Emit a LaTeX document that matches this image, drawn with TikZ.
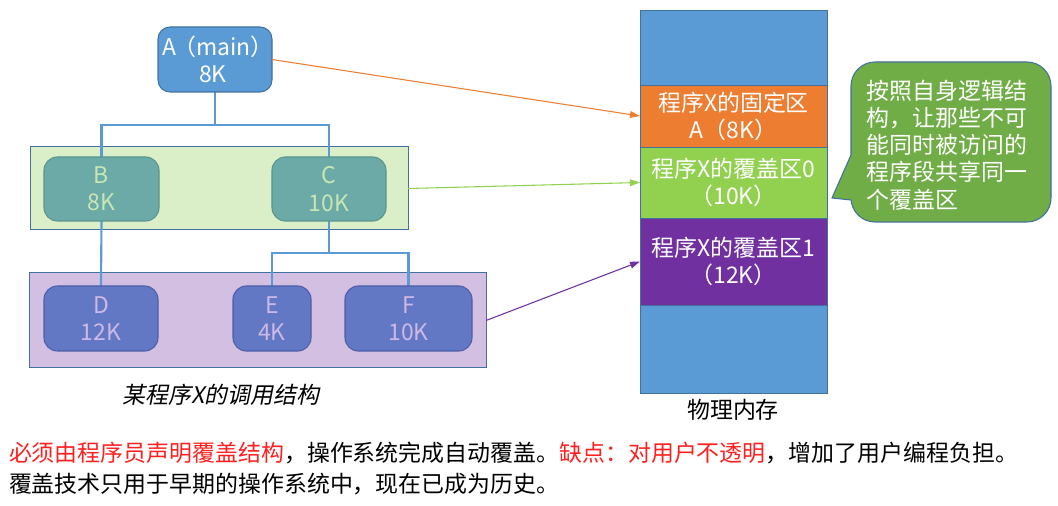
\documentclass[tikz,border=0pt]{standalone}
\usepackage{fontspec}
\setmainfont{Noto Sans CJK SC}
\newfontfamily\capfont[FakeSlant=0.2]{Noto Sans CJK SC}
\usetikzlibrary{fit,arrows.meta,calc}
\definecolor{ablue}{HTML}{5B9BD5}
\definecolor{bordblue}{HTML}{41719C}
\definecolor{tealbox}{HTML}{6BAAA7}
\definecolor{tealbord}{HTML}{5A9590}
\definecolor{tealtxt}{HTML}{C8E6B4}
\definecolor{gband}{HTML}{DAEFC8}
\definecolor{pband}{HTML}{D3BFE1}
\definecolor{pbox}{HTML}{6278C4}
\definecolor{pbord}{HTML}{4C5FA8}
\definecolor{ptxt}{HTML}{CDB9E6}
\definecolor{morange}{HTML}{ED7D31}
\definecolor{mgreen}{HTML}{92D050}
\definecolor{mpurple}{HTML}{7030A0}
\definecolor{callgreen}{HTML}{70AD47}
\definecolor{warnred}{HTML}{FF1F1F}
\begin{document}
\begin{tikzpicture}[x=0.75pt,y=-0.75pt,
  font=\fontsize{17.2}{20.4}\selectfont,
  every node/.style={inner sep=0pt, outer sep=0pt},
  abox/.style={fill=ablue, draw=bordblue, line width=0.8pt, rounded corners=9pt, text=white, align=center},
  tbox/.style={fill=tealbox, draw=tealbord, line width=0.8pt, rounded corners=10pt, text=tealtxt, align=center},
  pbx/.style={fill=pbox, draw=pbord, line width=0.8pt, rounded corners=10pt, text=ptxt, align=center},
  band/.style={draw=bordblue, line width=0.75pt},
  conn/.style={draw=ablue, line width=1.6pt},
  memblk/.style={draw=bordblue, line width=0.6pt, text=white, align=center},
  link/.style={line width=0.8pt, -{Triangle[length=7.5pt,width=5pt]}},
]
\useasboundingbox (0,0) rectangle (1058,506);

% bands
\node[band, fill=gband, fit={(30,147)(408,230)}] (gb) {};
\node[band, fill=pband, fit={(29,273)(486,368)}] (pb) {};

% box positions
\path node[fit={(158,27)(272,92)}] (Apos) {};
\path node[fit={(44,157)(159,221)}] (Bpos) {};
\path node[fit={(272,157)(386,221)}] (Cpos) {};
\path node[fit={(44,286)(158,351)}] (Dpos) {};
\path node[fit={(233,286)(311,351)}] (Epos) {};
\path node[fit={(345,286)(472,351)}] (Fpos) {};

% connectors
\draw[conn] (Apos.south) -- ++(0,33) coordinate (ab);
\draw[conn] (Bpos.north) |- (ab) -| (Cpos.north);
\draw[conn] (Bpos.south) -- (Dpos.north);
\draw[conn] (Cpos.south) -- ++(0,32) coordinate (cef);
\draw[conn] (Epos.north) |- (cef) -| (Fpos.north);

% boxes
\node[abox, fit={(158,27)(272,92)}] (A) {};
\node[text=white, align=center] at ($(A.center)+(-2,0)$) {A\kern-0.15em（main）\kern-0.45em\\8K};
\node[tbox, fit={(44,157)(159,221)}] (B) {};
\node[text=tealtxt, align=center] at (B.center) {B\\8K};
\node[tbox, fit={(272,157)(386,221)}] (C) {};
\node[text=tealtxt, align=center] at (C.center) {C\\10K};
\node[pbx, fit={(44,286)(158,351)}] (D) {};
\node[text=ptxt, align=center] at (D.center) {D\\12K};
\node[pbx, fit={(233,286)(311,351)}] (E) {};
\node[text=ptxt, align=center] at (E.center) {E\\4K};
\node[pbx, fit={(345,286)(472,351)}] (F) {};
\node[text=ptxt, align=center] at (F.center) {F\\10K};

\node (cap) at (221,395) {\capfont 某程序X的调用结构};

% memory
\node[memblk, fill=ablue, fit={(640,10)(827,393)}] (mem) {};
\node[memblk, fill=morange, fit={(640,85)(827,147)}] (mo) {};
\node[text=white, align=center] at (mo.center) {程序X的固定区\\A（8K）};
\node[memblk, fill=mgreen, fit={(640,147)(827,218)}] (mg) {};
\node[text=white, align=center] at (mg.center) {程序X的覆盖区0\\（10K）};
\node[memblk, fill=mpurple, fit={(640,218)(827,305)}] (mp) {};
\node[text=white, align=center] at (mp.center) {程序X的覆盖区1\\（12K）};
\node (memlbl) at (733,410) {物理内存};

% callout
\node[fill=callgreen, draw=bordblue, line width=0.8pt, rounded corners=18pt, fit={(851,62)(1051,222)}] (call) {};
\fill[callgreen] (854,155.5) -- (851,155) -- (832,198) -- (851,200) -- (854,199.5) -- cycle;
\draw[bordblue, line width=0.8pt] (851,155) -- (832,198) -- (851,200);
\node[text=white, align=left] (calltxt) at (947,145) {按照自身逻辑结\\构，让那些不可\\能同时被访问的\\程序段共享同一\\个覆盖区};

% links
\draw[link, morange] (A.east) -- (mo.west);
\draw[link, mgreen] (gb.east) -- (mg.west);
\draw[link, mpurple] (pb.east) -- (mp.west);

% bottom text
\node[anchor=west] (t1) at (9,453) {\textcolor{warnred}{必须由程序员声明覆盖结构}，操作系统完成自动覆盖。\textcolor{warnred}{缺点：对用户不透明}，增加了用户编程负担。};
\node[anchor=west] (t2) at (9,484) {覆盖技术只用于早期的操作系统中，现在已成为历史。};
\end{tikzpicture}
\end{document}
